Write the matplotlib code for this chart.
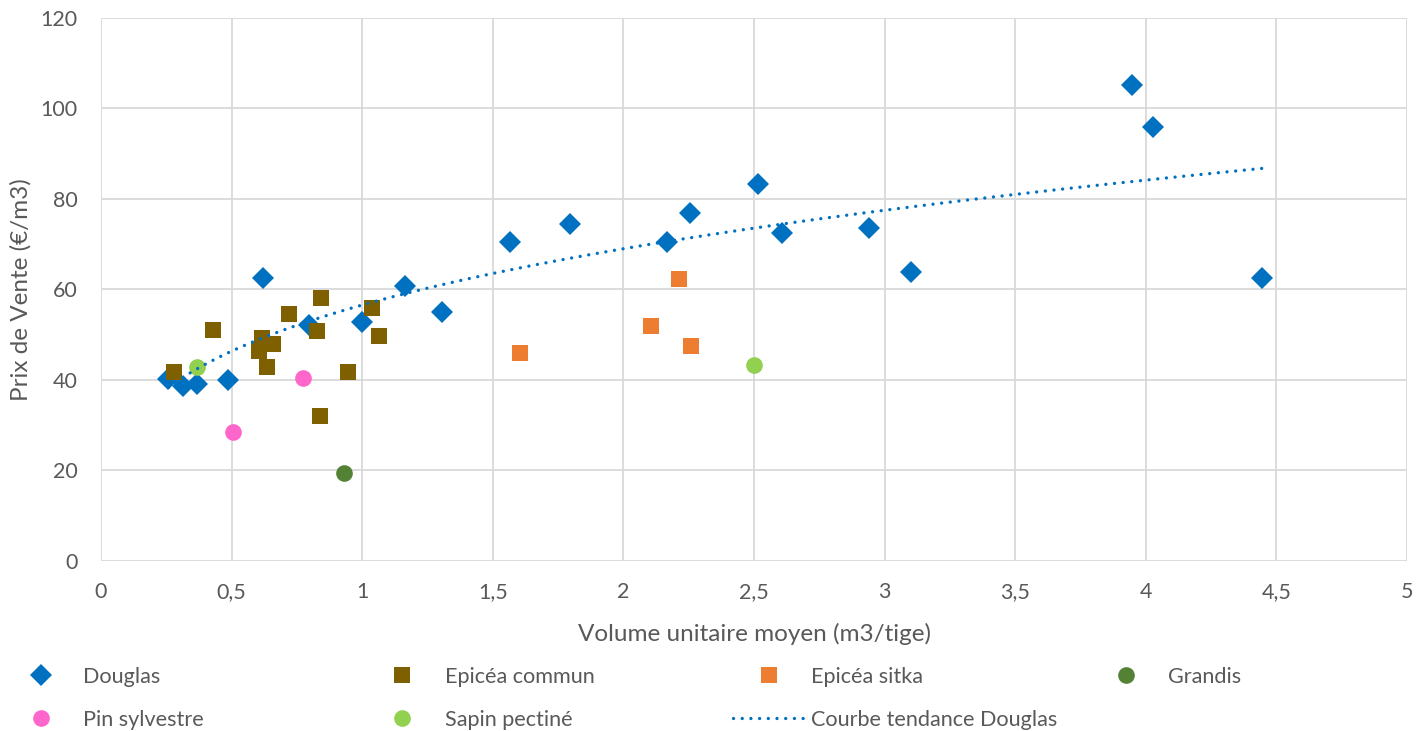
import numpy as np
import matplotlib
matplotlib.use("Agg")
import matplotlib.pyplot as plt
from matplotlib.ticker import FuncFormatter

# valeurs (volume m3/tige, prix EUR/m3)
douglas_x = [0.258, 0.314, 0.366, 0.488, 0.622, 0.795, 1.001, 1.162, 1.305, 1.565,
             1.797, 2.168, 2.253, 2.517, 2.607, 2.94, 3.102, 3.946, 4.027, 4.445]
douglas_y = [40.3, 38.7, 39.2, 40.1, 62.5, 52.2, 52.8, 60.8, 55.0, 70.4,
             74.5, 70.4, 76.9, 83.2, 72.4, 73.5, 63.9, 105.2, 95.8, 62.5]

epicea_x = [0.28, 0.43, 0.617, 0.658, 0.603, 0.636, 0.72, 0.826, 0.844, 1.036, 1.066, 0.944, 0.84]
epicea_y = [41.7, 51.0, 49.3, 47.9, 46.3, 42.9, 54.5, 50.9, 58.2, 55.8, 49.7, 41.7, 32.1]

sitka_x = [1.603, 2.105, 2.214, 2.26]
sitka_y = [46.0, 51.9, 62.3, 47.4]

grandis_x = [0.93]
grandis_y = [19.5]

pin_x = [0.775, 0.504]
pin_y = [40.5, 28.5]

sapin_x = [0.367, 2.499]
sapin_y = [42.9, 43.2]

x_ticks = [0, 0.5, 1, 1.5, 2, 2.5, 3, 3.5, 4, 4.5, 5]
y_ticks = [0, 20, 40, 60, 80, 100, 120]

grey = "#595959"
plt.rcParams['font.family'] = ['Lato', 'DejaVu Sans']

fig = plt.figure(figsize=(14.27, 7.31), dpi=100)
ax = fig.add_axes([0.0708, 0.2326, 0.9152, 0.7428])

ms = dict(ls='none', markeredgewidth=0)
ax.plot(douglas_x, douglas_y, marker='D', ms=11, color='#0070C0', label='Douglas', **ms)
ax.plot(epicea_x, epicea_y, marker='s', ms=11, color='#7F6000', label='Epicéa commun', **ms)
ax.plot(sitka_x, sitka_y, marker='s', ms=11, color='#ED7D31', label='Epicéa sitka', **ms)
ax.plot(grandis_x, grandis_y, marker='o', ms=12, color='#548235', label='Grandis', **ms)
ax.plot(pin_x, pin_y, marker='o', ms=12, color='#FF66CC', label='Pin sylvestre', **ms)
ax.plot(sapin_x, sapin_y, marker='o', ms=12, color='#92D050', label='Sapin pectiné', **ms)

# courbe de tendance puissance (comme Excel)
p = np.polyfit(np.log(douglas_x), np.log(douglas_y), 1)
xt = np.linspace(min(douglas_x), max(douglas_x), 200)
yt = np.exp(p[1]) * xt ** p[0]
ax.plot(xt, yt, ls=(0, (0.01, 2.6)), lw=2.4, color='#0070C0', dash_capstyle='round',
        label='Courbe tendance Douglas', zorder=3)

ax.set_xlim(0, 5)
ax.set_ylim(0, 120)
ax.set_xticks(x_ticks)
ax.set_yticks(y_ticks)
ax.xaxis.set_major_formatter(FuncFormatter(lambda v, pos: ('%g' % v).replace('.', ',')))
ax.grid(True, color='#D9D9D9', lw=1.3)
ax.set_axisbelow(True)
for s in ax.spines.values():
    s.set_visible(False)
ax.tick_params(length=0, labelsize=15.5, colors=grey)
ax.tick_params(axis='y', pad=17)
ax.tick_params(axis='x', pad=15)
ax.set_xlabel('Volume unitaire moyen (m3/tige)', fontsize=17.5, color=grey, labelpad=15)
ax.set_ylabel('Prix de Vente (€/m3)', fontsize=17.5, color=grey, labelpad=6)

# légende en 4 colonnes
h, l = ax.get_legend_handles_labels()
cols = [[0, 4], [1, 5], [2, 6], [3]]
col_x = [0.004, 0.257, 0.514, 0.764]
for c, xs in zip(cols, col_x):
    leg = fig.legend([h[i] for i in c], [l[i] for i in c], loc='upper left',
                     bbox_to_anchor=(xs, 0.0876), frameon=False, fontsize=15.6,
                     handlelength=3.27, handletextpad=0.32, labelspacing=1.05,
                     borderpad=0, borderaxespad=0, numpoints=1)
    for t in leg.get_texts():
        t.set_color(grey)

fig.savefig('out.png', dpi=100)
